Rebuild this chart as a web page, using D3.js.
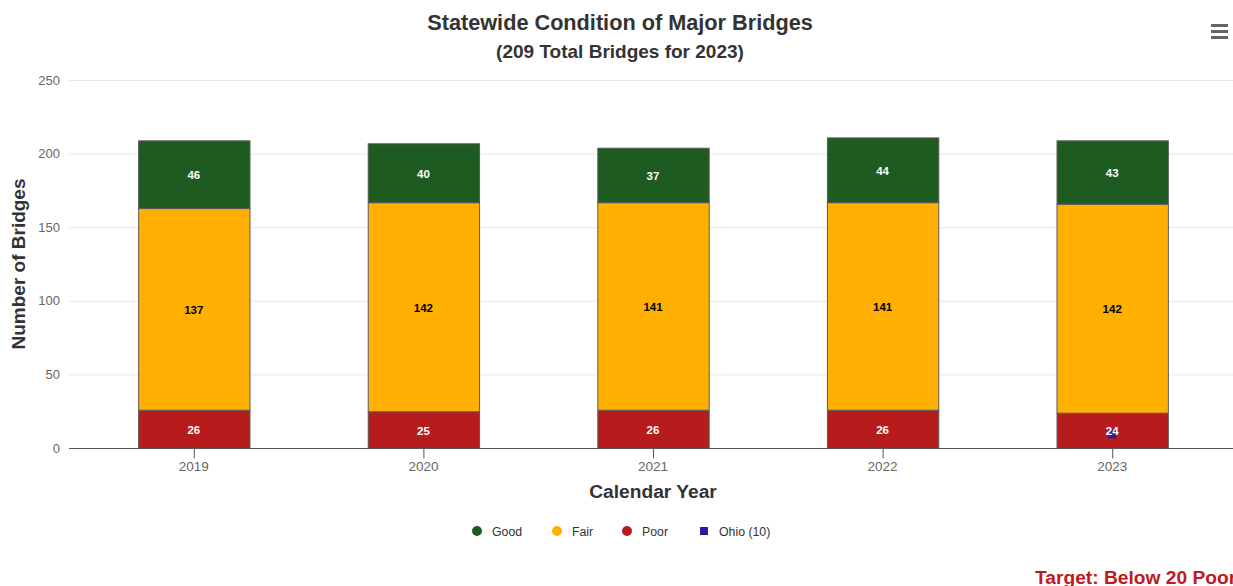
<!DOCTYPE html>
<html>
<head>
<meta charset="utf-8">
<script src="https://cdn.jsdelivr.net/npm/d3@7"></script>
<style>
  body { margin: 0; background: #fff; overflow: hidden; }
  svg { font-family: "Liberation Sans", Arial, sans-serif; display: block; }
</style>
</head>
<body>
<svg width="1233" height="586"></svg>
<script>
// chart data
var years = ['2019', '2020', '2021', '2022', '2023'];
var poor = [26, 25, 26, 26, 24];
var fair = [137, 142, 141, 141, 142];
var good = [46, 40, 37, 44, 43];
var ohioYear = ['2023'];
var ohioValue = [10];
var yTicks = [0, 50, 100, 150, 200, 250];

function main() {
	var svg = d3.select('svg'),
	width = +svg.attr('width'),
	height = +svg.attr('height');

	var left = 69, top = 80, bottom = 448;

	var x = d3.scaleBand().domain(years).range([79, 1227]).paddingInner(0.515).paddingOuter(0.2575);
	var y = d3.scaleLinear().domain([0, 250]).range([bottom, top]);

	var rows = years.map(function(yr, i) {
		return { year: yr, Poor: poor[i], Fair: fair[i], Good: good[i] };
	});
	var keys = ['Poor', 'Fair', 'Good'];
	var color = { Good: '#1e5b20', Fair: '#ffb000', Poor: '#b71c1c' };
	var labelColor = { Good: '#ffffff', Fair: '#000000', Poor: '#ffffff' };
	var stack = d3.stack().keys(keys)(rows);

	// gridlines
	svg.append('g')
		.selectAll('line')
		.data(yTicks.slice(1))
		.enter().append('line')
		.attr('x1', left).attr('x2', width)
		.attr('y1', function(d) { return y(d) + 0.5; })
		.attr('y2', function(d) { return y(d) + 0.5; })
		.attr('stroke', '#e6e6e6');

	// y tick labels
	svg.append('g')
		.selectAll('text')
		.data(yTicks)
		.enter().append('text')
		.attr('x', 60)
		.attr('y', function(d) { return y(d) + 4.5; })
		.attr('text-anchor', 'end')
		.attr('font-size', 13)
		.attr('fill', '#666')
		.text(function(d) { return d; });

	// bars
	var layer = svg.append('g').selectAll('g.layer')
		.data(stack)
		.enter().append('g')
		.attr('class', 'layer')
		.attr('fill', function(d) { return color[d.key]; });

	layer.selectAll('rect')
		.data(function(d) { return d; })
		.enter().append('rect')
		.attr('x', function(d) { return x(d.data.year) + 0.5; })
		.attr('y', function(d) { return y(d[1]) + 0.5; })
		.attr('width', x.bandwidth())
		.attr('height', function(d) { return y(d[0]) - y(d[1]); })
		.attr('stroke', '#5a5a5a')
		.attr('stroke-width', 1);

	// ohio marker
	svg.append('g').selectAll('rect')
		.data(ohioYear)
		.enter().append('rect')
		.attr('x', function(d) { return x(d) + x.bandwidth() / 2 - 4; })
		.attr('y', function(d, i) { return y(ohioValue[i]) - 3; })
		.attr('width', 8).attr('height', 8)
		.attr('fill', '#2e1a9e');

	// data labels
	stack.forEach(function(s) {
		svg.append('g').selectAll('text')
			.data(s)
			.enter().append('text')
			.attr('x', function(d) { return x(d.data.year) + x.bandwidth() / 2; })
			.attr('y', function(d) { return (y(d[0]) + y(d[1])) / 2 + 5; })
			.attr('text-anchor', 'middle')
			.attr('font-size', 11.5)
			.attr('font-weight', 'bold')
			.attr('fill', labelColor[s.key])
			.text(function(d) { return d[1] - d[0]; });
	});

	// x axis
	var xAxis = svg.append('g')
		.attr('transform', 'translate(0,' + (bottom + 0.5) + ')');
	xAxis.append('line').attr('x1', left).attr('x2', width).attr('stroke', '#555');
	xAxis.selectAll('line.tick')
		.data(years)
		.enter().append('line')
		.attr('class', 'tick')
		.attr('x1', function(d) { return x(d) + x.bandwidth() / 2 + 0.5; })
		.attr('x2', function(d) { return x(d) + x.bandwidth() / 2 + 0.5; })
		.attr('y1', 0).attr('y2', 10)
		.attr('stroke', '#555');
	xAxis.selectAll('text')
		.data(years)
		.enter().append('text')
		.attr('x', function(d) { return x(d) + x.bandwidth() / 2; })
		.attr('y', 22)
		.attr('text-anchor', 'middle')
		.attr('font-size', 13.5)
		.attr('fill', '#666')
		.text(function(d) { return d; });

	// titles
	svg.append('text')
		.attr('x', 620).attr('y', 30)
		.attr('text-anchor', 'middle')
		.attr('font-size', 21.7).attr('font-weight', 'bold').attr('fill', '#333')
		.text('Statewide Condition of Major Bridges');
	svg.append('text')
		.attr('x', 620).attr('y', 58)
		.attr('text-anchor', 'middle')
		.attr('font-size', 19).attr('font-weight', 'bold').attr('fill', '#333')
		.text('(209 Total Bridges for 2023)');
	svg.append('text')
		.attr('transform', 'translate(25,' + (top + bottom) / 2 + ') rotate(-90)')
		.attr('text-anchor', 'middle')
		.attr('font-size', 19).attr('font-weight', 'bold').attr('fill', '#333')
		.text('Number of Bridges');
	svg.append('text')
		.attr('x', 653).attr('y', 498)
		.attr('text-anchor', 'middle')
		.attr('font-size', 19.2).attr('font-weight', 'bold').attr('fill', '#333')
		.text('Calendar Year');

	// legend
	var legendItems = [
		{ name: 'Good', color: color.Good, x: 477, shape: 'circle' },
		{ name: 'Fair', color: color.Fair, x: 557, shape: 'circle' },
		{ name: 'Poor', color: color.Poor, x: 627, shape: 'circle' },
		{ name: 'Ohio (10)', color: '#2e1a9e', x: 704, shape: 'square' }
	];
	var lg = svg.append('g').selectAll('g')
		.data(legendItems)
		.enter().append('g')
		.attr('transform', function(d) { return 'translate(' + d.x + ',531)'; });
	lg.filter(function(d) { return d.shape == 'circle'; })
		.append('circle').attr('r', 5).attr('fill', function(d) { return d.color; });
	lg.filter(function(d) { return d.shape == 'square'; })
		.append('rect').attr('x', -4).attr('y', -4).attr('width', 8).attr('height', 8)
		.attr('fill', function(d) { return d.color; });
	lg.append('text')
		.attr('x', 15).attr('y', 4.5)
		.attr('font-size', 12.3).attr('fill', '#333')
		.text(function(d) { return d.name; });

	// target note (cut off at the right edge, as in the source)
	svg.append('text')
		.attr('x', 1035).attr('y', 584)
		.attr('font-size', 19.2).attr('font-weight', 'bold').attr('fill', '#c0191e')
		.text('Target: Below 20 Poor');

	// menu icon
	svg.append('g').selectAll('line')
		.data([0, 6, 12])
		.enter().append('line')
		.attr('x1', 1211).attr('x2', 1228)
		.attr('y1', function(d) { return 25.5 + d; })
		.attr('y2', function(d) { return 25.5 + d; })
		.attr('stroke', '#666').attr('stroke-width', 3);
}
main();
</script>
</body>
</html>
